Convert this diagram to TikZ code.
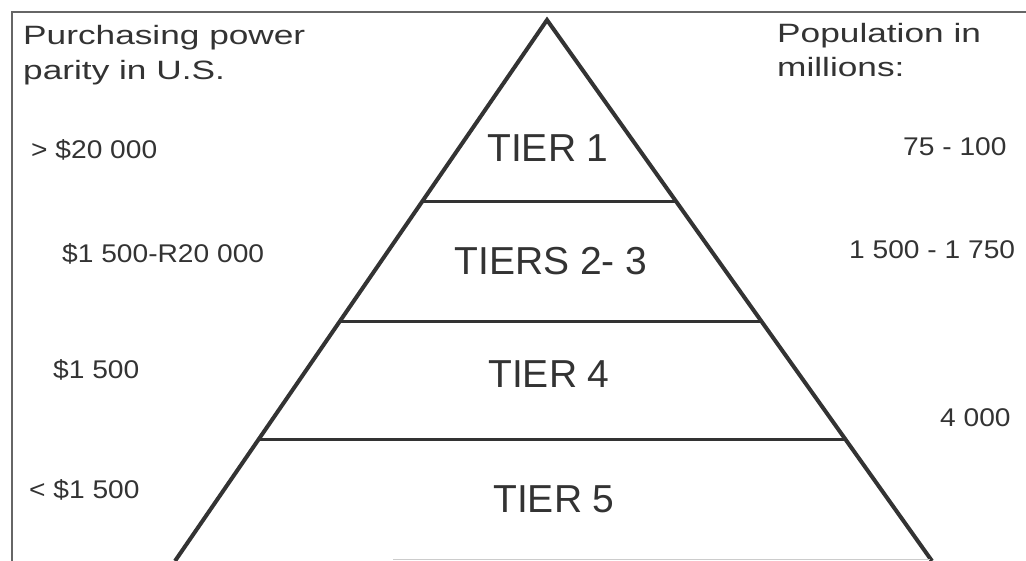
\documentclass[tikz,border=0pt]{standalone}
\usepackage{fontspec}
\setmainfont{Liberation Sans}
\newfontfamily\hdrfont[FakeStretch=1.33]{Liberation Sans}
\newfontfamily\numfont[FakeStretch=1.1]{Liberation Sans}
\usetikzlibrary{calc}
\definecolor{ink}{HTML}{333333}
\begin{document}
\begin{tikzpicture}[x=1pt,y=-1pt,
  hdr/.style={anchor=base west,inner sep=0pt,text=ink,font=\hdrfont\fontsize{26.5}{32}\selectfont},
  num/.style={anchor=base west,inner sep=0pt,text=ink,font=\numfont\fontsize{25.6}{30}\selectfont},
  tier/.style={anchor=base,inner sep=0pt,text=ink,font=\fontsize{39}{45}\selectfont},
  side/.style={draw=ink,line width=4pt,line join=miter},
  divider/.style={draw=ink,line width=3pt},
  frame/.style={draw=black!60,line width=2pt},
  faint/.style={draw=black!20,line width=1pt}]
\useasboundingbox (0,0) rectangle (1026,561);
% frame
\coordinate (ftl) at (12,12);
\coordinate (ftr) at (1026,12);
\coordinate (fbl) at (12,561);
\draw[frame] (fbl) -- (ftl) -- (ftr);
% pyramid
\coordinate (apex) at (547,20);
\coordinate (bl) at (175,561);
\coordinate (br) at (932,561);
\draw[side] (bl) -- (apex) -- (br);
\draw[divider] ($(apex)!0.3364!(bl)$) -- ($(apex)!0.3364!(br)$);
\draw[divider] ($(apex)!0.5564!(bl)$) -- ($(apex)!0.5564!(br)$);
\draw[divider] ($(apex)!0.7745!(bl)$) -- ($(apex)!0.7745!(br)$);
\coordinate (fb1) at (393,559);
\coordinate (fb2) at (930,559);
\draw[faint] (fb1) -- (fb2);
% headers
\node[hdr] (ppp1) at (23,45) {Purchasing power};
\node[hdr] (ppp2) at (23,80) {parity in U.S.};
\node[hdr] (pop1) at (777,43) {Population in};
\node[hdr] (pop2) at (777,77) {millions:};
% tier labels
\node[tier] (t1) at (548,162) {TIER 1};
\node[tier] (t23) at (551,275) {TIERS 2- 3};
\node[tier] (t4) at (549,388) {TIER 4};
\node[tier] (t5) at (554,512) {TIER 5};
% left values
\node[num] (l1) at (31,159) {> \$20 000};
\node[num] (l2) at (62,263) {\$1 500-R20 000};
\node[num] (l3) at (53,379) {\$1 500};
\node[num] (l4) at (29,498) {< \$1 500};
% right values
\node[num] (r1) at (903,156) {75 - 100};
\node[num] (r2) at (849,259) {1 500 - 1 750};
\node[num] (r3) at (940,427) {4 000};
\end{tikzpicture}
\end{document}
